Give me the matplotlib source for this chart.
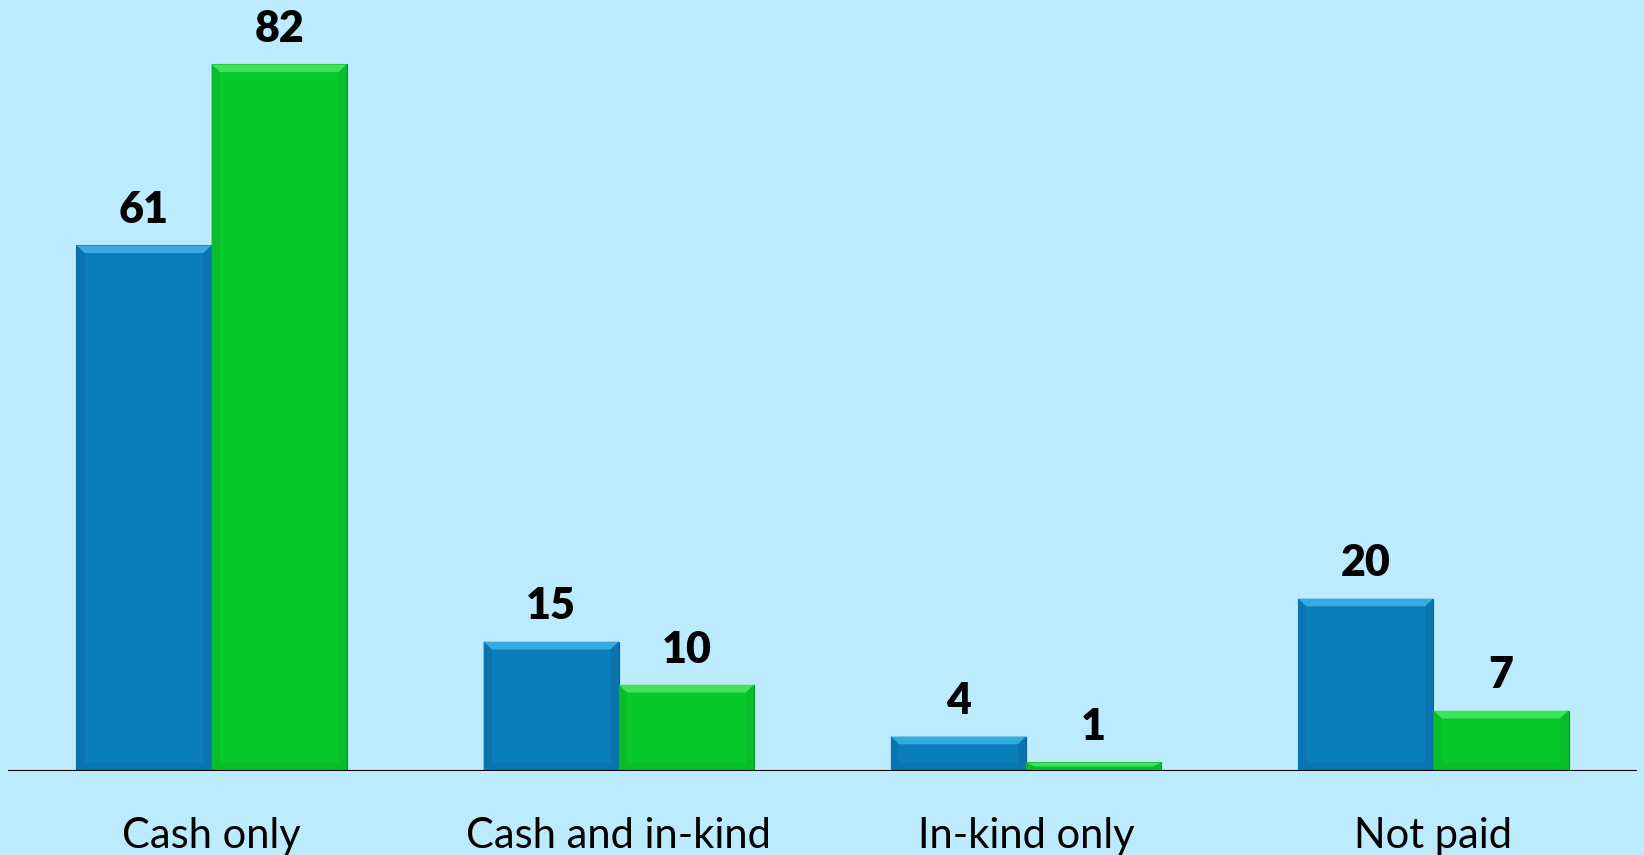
import matplotlib.pyplot as plt
import matplotlib.transforms as mtransforms
from matplotlib.patches import Polygon
import numpy as np

categories = ['Cash only', 'Cash and in-kind', 'In-kind only', 'Not paid']
series_a = [61, 15, 4, 20]
series_b = [82, 10, 1, 7]

BG = '#bdebfe'
# (main, top highlight, side shade, outline)
BLUE = ('#0a7dba', '#36aae2', '#0974b0', '#075c8c')
GREEN = ('#08c92b', '#3ee35a', '#07bd29', '#069020')


# draw an Excel-like bevel on top of each bar
def add_bevel(ax, bars, colors, bx=0.02, by=0.9):
    for rect in bars:
        x0, y0 = rect.get_x(), rect.get_y()
        w, h = rect.get_width(), rect.get_height()
        x1, y1 = x0 + w, y0 + h
        b = min(by, h / 2)
        top = Polygon([(x0, y1), (x1, y1), (x1 - bx, y1 - b), (x0 + bx, y1 - b)],
                      closed=True, facecolor=colors[1], edgecolor='none', zorder=3)
        left = Polygon([(x0, y0), (x0, y1), (x0 + bx, y1 - b), (x0 + bx, y0 + b)],
                       closed=True, facecolor=colors[2], edgecolor='none', zorder=3)
        right = Polygon([(x1, y0), (x1, y1), (x1 - bx, y1 - b), (x1 - bx, y0 + b)],
                        closed=True, facecolor=colors[2], edgecolor='none', zorder=3)
        bottom = Polygon([(x0, y0), (x1, y0), (x1 - bx, y0 + b), (x0 + bx, y0 + b)],
                         closed=True, facecolor=colors[2], edgecolor='none', zorder=3)
        for p in (top, left, right, bottom):
            ax.add_patch(p)


def main():
    fig = plt.figure(figsize=(16.44, 8.55), dpi=100, facecolor=BG)
    ax = fig.add_axes([8 / 1644, 84 / 855, 1629 / 1644, 0.887])
    ax.set_facecolor(BG)

    x = np.arange(len(categories))
    width = 0.332
    bars_a = ax.bar(x - width / 2, series_a, width, color=BLUE[0],
                    edgecolor=BLUE[3], linewidth=0.8, zorder=2)
    bars_b = ax.bar(x + width / 2, series_b, width, color=GREEN[0],
                    edgecolor=GREEN[3], linewidth=0.8, zorder=2)
    add_bevel(ax, bars_a, BLUE)
    add_bevel(ax, bars_b, GREEN)

    for bars, vals in ((bars_a, series_a), (bars_b, series_b)):
        for rect, v in zip(bars, vals):
            ax.annotate(str(v), (rect.get_x() + rect.get_width() / 2, rect.get_height()),
                        xytext=(0, 11), textcoords='offset points',
                        ha='center', va='bottom', fontsize=31, fontweight='heavy',
                        family='Lato', color='black')

    trans = mtransforms.blended_transform_factory(ax.transData, fig.transFigure)
    for xi, name in zip(x, categories):
        ax.text(xi, 7 / 855, name, transform=trans, ha='center', va='baseline',
                fontsize=30, family='Lato', color='black')

    ax.set_xlim(-0.5, 3.5)
    ax.set_ylim(0, 88)
    ax.axhline(0, color='black', linewidth=1.5, zorder=4)
    for s in ax.spines.values():
        s.set_visible(False)
    ax.set_xticks([])
    ax.set_yticks([])

    fig.savefig('out.png', dpi=100, facecolor=BG)


if __name__ == '__main__':
    main()
